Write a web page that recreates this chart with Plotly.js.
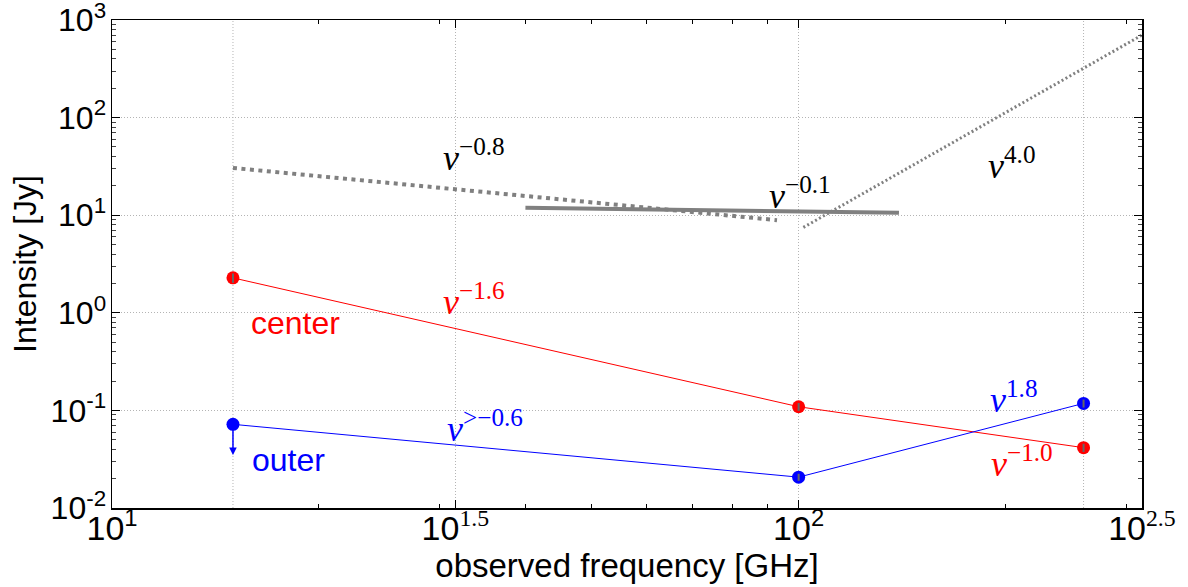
<!DOCTYPE html>
<html>
<head>
<meta charset="utf-8">
<script src="https://cdn.plot.ly/plotly-3.0.1.min.js"></script>
<style>html,body{margin:0;padding:0;background:#fff;}#chart{width:1188px;height:587px;}</style>
</head>
<body>
<div id="chart"></div>
<script>
// ---- data ----
const freq = [15, 100, 260];                 // GHz
const centerFlux = [2.28, 0.109, 0.0415];    // Jy
const centerErr = [0.25, 0.01, 0.004];
const outerFlux = [0.072, 0.0207, 0.118];    // Jy (first is an upper limit)
const outerErr = [0, 0.0017, 0.011];
const outerLimitFreq = 15;
const outerLimitTip = 0.035;

const pl08Freq = [15, 93];    const pl08Flux = [30.5, 8.9];
const pl01Freq = [40, 140];   const pl01Flux = [11.9, 10.6];
const pl40Freq = [101.6, 316.2]; const pl40Flux = [7.5, 700];

const yTickVals = [0.01, 0.1, 1, 10, 100, 1000];
const yTickText = ['10<sup>-2</sup>', '10<sup>-1</sup>', '10<sup>0</sup>', '10<sup>1</sup>', '10<sup>2</sup>', '10<sup>3</sup>'];
const xTickVals = [10, 31.6228, 100, 316.228];
const xTickExp = ['1', '1.5', '2', '2.5'];
const extraGridFreq = [15, 260];

const labelText = ['ν<sup>−0.8</sup>', 'ν<sup>−0.1</sup>', 'ν<sup>4.0</sup>', 'ν<sup>−1.6</sup>', 'ν<sup>&gt;−0.6</sup>', 'ν<sup>1.8</sup>', 'ν<sup>−1.0</sup>'];
const labelColor = ['black', 'black', 'black', 'red', 'blue', 'blue', 'red'];
const labelX = [1.5265, 2.0015, 2.31, 1.527, 1.5425, 2.313, 2.326];   // log10 positions
const labelY = [1.614, 1.226, 1.532, 0.137, -1.161, -0.864, -1.527];

// minor tick positions
const yMinor = [];
for (let e = -2; e < 3; e++) for (let d = 2; d <= 9; d++) yMinor.push(d * Math.pow(10, e));
const xMinor = [20, 30, 40, 50, 60, 70, 80, 90, 200, 300];

const grey = '#808080';
const traces = [
  {x: pl08Freq, y: pl08Flux, mode: 'lines', line: {color: grey, width: 4, dash: '4px,4.5px'}, hoverinfo: 'skip'},
  {x: pl01Freq, y: pl01Flux, mode: 'lines', line: {color: grey, width: 4}, hoverinfo: 'skip'},
  {x: pl40Freq, y: pl40Flux, mode: 'lines', line: {color: grey, width: 3, dash: '2px,2.5px'}, hoverinfo: 'skip'},
  {x: freq, y: centerFlux, mode: 'lines+markers', line: {color: 'red', width: 1}, marker: {color: 'red', size: 13}},
  {x: freq, y: outerFlux, mode: 'lines+markers', line: {color: 'blue', width: 1}, marker: {color: 'blue', size: 13}},
  {x: freq, y: centerFlux, mode: 'markers', marker: {color: 'rgba(0,0,0,0)', size: 1},
   error_y: {type: 'data', array: centerErr, color: '#666666', thickness: 2, width: 0}},
  {x: freq, y: outerFlux, mode: 'markers', marker: {color: 'rgba(0,0,0,0)', size: 1},
   error_y: {type: 'data', array: outerErr, color: '#666666', thickness: 2, width: 0}}
];

const annotations = labelText.map((t, i) => ({
  x: labelX[i], y: labelY[i], xref: 'x', yref: 'y', text: '<i>' + t.replace('<sup>', '</i><sup>'),
  showarrow: false, xanchor: 'center', yanchor: 'middle',
  font: {family: 'Liberation Serif, DejaVu Serif, serif', size: 36, color: labelColor[i]}
}));
annotations.push({x: Math.log10(18.5), y: Math.log10(0.785), xref: 'x', yref: 'y', text: 'center', showarrow: false,
  font: {family: 'Liberation Sans, Arial, sans-serif', size: 32, color: 'red'}});
annotations.push({x: Math.log10(18.1), y: Math.log10(0.031), xref: 'x', yref: 'y', text: 'outer', showarrow: false,
  font: {family: 'Liberation Sans, Arial, sans-serif', size: 32, color: 'blue'}});
// upper limit arrow on the outer 15 GHz point
annotations.push({x: Math.log10(outerLimitFreq), y: Math.log10(outerLimitTip), xref: 'x', yref: 'y',
  ax: Math.log10(outerLimitFreq), ay: Math.log10(outerFlux[0]), axref: 'x', ayref: 'y',
  text: '', showarrow: true, arrowhead: 2, arrowsize: 1, arrowwidth: 1.5, arrowcolor: 'blue', standoff: 0, startstandoff: 0});

const shapes = extraGridFreq.map(f => ({type: 'line', xref: 'x', yref: 'paper', x0: f, x1: f, y0: 0, y1: 1,
  line: {color: '#b4b4b4', width: 1, dash: '1px,2px'}, layer: 'below'}));

const layout = {
  width: 1188, height: 587,
  margin: {l: 112, r: 46, t: 20, b: 79},
  paper_bgcolor: '#fff', plot_bgcolor: '#fff',
  showlegend: false,
  font: {family: 'Liberation Sans, Arial, sans-serif', color: 'black'},
  xaxis: {
    type: 'log', range: [0.9999, 2.5001], tickmode: 'array', tickvals: xTickVals,
    ticktext: xTickExp.map(e => '10<sup>' + (e.indexOf('.') >= 0 ? '<span style="font-family:serif">' + e + '</span>' : e) + '</sup>'),
    ticks: 'inside', ticklen: 8, tickcolor: 'black', mirror: 'allticks', showline: true, linecolor: 'black', linewidth: 1.5,
    showgrid: true, gridcolor: '#b4b4b4', griddash: '1px,2px', gridwidth: 1, zeroline: false,
    tickfont: {size: 34, color: 'black'}, ticklabelstandoff: -10, ticklabeloverflow: 'allow',
    minor: {tickmode: 'array', tickvals: xMinor, ticks: 'inside', ticklen: 4, tickcolor: 'black', showgrid: false},
    title: {text: 'observed frequency [GHz]', font: {size: 33, color: 'black'}, standoff: 0}
  },
  yaxis: {
    type: 'log', range: [-2.0001, 3.0001], tickmode: 'array', tickvals: yTickVals, ticktext: yTickText,
    ticks: 'inside', ticklen: 8, tickcolor: 'black', mirror: 'allticks', showline: true, linecolor: 'black', linewidth: 1.5,
    showgrid: true, gridcolor: '#b4b4b4', griddash: '1px,2px', gridwidth: 1, zeroline: false,
    tickfont: {size: 32, color: 'black'}, ticklabelstandoff: -2, ticklabeloverflow: 'allow',
    minor: {tickmode: 'array', tickvals: yMinor, ticks: 'inside', ticklen: 4, tickcolor: '#444', showgrid: false},
    title: {text: 'Intensity [Jy]', font: {size: 32, color: 'black'}, standoff: 4}
  },
  annotations: annotations,
  shapes: shapes
};

Plotly.newPlot('chart', traces, layout, {staticPlot: true});
</script>
</body>
</html>
